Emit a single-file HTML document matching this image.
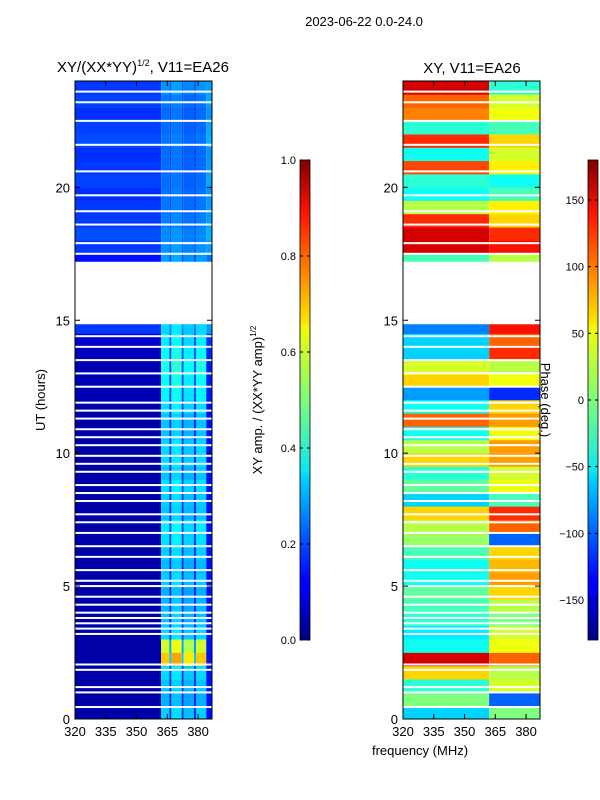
<!DOCTYPE html>
<html><head><meta charset="utf-8">
<style>
body{margin:0;background:#fff;}
svg{display:block;font-family:"Liberation Sans",sans-serif;}
</style></head>
<body>
<svg id="fig" width="600" height="800" viewBox="0 0 600 800">
<text x="364" y="26" font-size="13" text-anchor="middle">2023-06-22 0.0-24.0</text>
<text x="143" y="72" font-size="15" text-anchor="middle">XY/(XX*YY)<tspan font-size="9" dy="-6">1/2</tspan><tspan dy="6">, V11=EA26</tspan></text>
<text x="472" y="73" font-size="15" text-anchor="middle">XY, V11=EA26</text>
<text x="45" y="400" font-size="13" text-anchor="middle" transform="rotate(-90 45 400)">UT (hours)</text>
<text x="420" y="755" font-size="13" text-anchor="middle">frequency (MHz)</text>
<g id="left"></g>
<g id="right"></g>
<g id="axes"></g>
<defs>
<linearGradient id="jet" x1="0" y1="1" x2="0" y2="0">
<stop offset="0" stop-color="#00007f"/><stop offset="0.11" stop-color="#0000ff"/><stop offset="0.125" stop-color="#0000ff"/><stop offset="0.34" stop-color="#00d4ff"/><stop offset="0.35" stop-color="#0de5f0"/><stop offset="0.5" stop-color="#7dff7a"/><stop offset="0.65" stop-color="#f0f90d"/><stop offset="0.66" stop-color="#ffe600"/><stop offset="0.89" stop-color="#ff1300"/><stop offset="1" stop-color="#7f0000"/>
</linearGradient>
</defs>
<rect x="300" y="160" width="10" height="480" fill="url(#jet)" stroke="#000" stroke-width="0.8"/>
<rect x="588" y="160" width="10" height="480" fill="url(#jet)" stroke="#000" stroke-width="0.8"/>
<g id="cbticks"></g>
<text x="262" y="400" font-size="13" text-anchor="middle" transform="rotate(-90 262 400)">XY amp. / (XX*YY amp)<tspan font-size="8" dy="-6">1/2</tspan></text>
<text x="541" y="400" font-size="13" text-anchor="middle" transform="rotate(90 541 400)">Phase (deg.)</text>
</svg>
<script>
// rows are 0.5 h bins from UT 0 to 24
const utStarts = [0,0.5,1,1.5,2,2.5,3,3.5,4,4.5,5,5.5,6,6.5,7,7.5,8,8.5,9,9.5,10,10.5,11,11.5,12,12.5,13,13.5,14,14.5,15,15.5,16,16.5,17,17.5,18,18.5,19,19.5,20,20.5,21,21.5,22,22.5,23,23.5];
// null = flagged (blank)
const ampLow = [0.04,0.04,0.04,0.04,0.04,0.04,0.04,0.04,0.04,0.04,0.04,0.04,0.04,0.04,0.04,0.04,0.04,0.04,0.04,0.04,0.04,0.04,0.04,0.04,0.05,0.05,0.05,0.06,0.08,0.18,null,null,null,null,0.14,0.18,0.2,0.18,0.18,0.17,0.19,0.18,0.17,0.2,0.19,0.17,0.19,0.18];
const ampHigh = [0.33,0.3,0.32,0.34,0.68,0.58,0.34,0.32,0.31,0.3,0.33,0.31,0.33,0.35,0.36,0.32,0.33,0.35,0.32,0.34,0.34,0.32,0.32,0.35,0.37,0.38,0.4,0.38,0.36,0.34,null,null,null,null,0.28,0.27,0.26,0.25,0.24,0.24,0.23,0.23,0.23,0.24,0.23,0.23,0.24,0.27];
const phaseLow = [-60,0,-30,60,150,-40,-50,-30,-20,-10,-40,-40,-20,10,20,60,-60,-10,-30,60,20,-40,100,-40,-80,60,30,-60,-60,-90,null,null,null,null,-20,150,150,120,20,-40,-30,110,-40,120,-30,90,100,150];
const phaseHigh = [0,-100,30,20,100,40,30,0,20,60,80,70,60,-100,100,120,-20,40,30,80,80,40,80,60,-120,40,20,120,100,130,null,null,null,null,20,130,120,60,50,-20,-40,50,30,60,-20,40,30,-30];
// flagged thin lines (UT hours)
const gapUT = [0.45,1.0,1.2,1.85,2.05,3.2,3.4,3.6,3.8,4.0,4.3,4.6,5.0,5.2,5.6,6.1,6.5,7.0,7.4,7.7,8.2,8.5,8.8,9.3,9.6,9.9,10.3,10.6,10.9,11.3,11.6,11.9,12.5,13.0,13.5,14.0,14.4,17.5,17.9,18.6,19.1,19.7,20.6,21.6,22.5,23.2,23.6];
const blankStart = 14.85, blankEnd = 17.2;
// high-band amplitude stripes (MHz edges) and relative gains
const stripeEdges = [362,366,367,372,373,378,379,384];
const stripeGain = [1.0,0.45,1.05,0.45,0.95,0.45,1.0];
const yTicks = [0,5,10,15,20];
const xTicks = [320,335,350,365,380];
const ampTicks = [0.0,0.2,0.4,0.6,0.8,1.0];
const phaseTicks = [-150,-100,-50,0,50,100,150];

const NS='http://www.w3.org/2000/svg';
function jet(v){v=Math.max(0,Math.min(1,v));
 const r=Math.min(4*v-1.5,-4*v+4.5),g=Math.min(4*v-0.5,-4*v+3.5),b=Math.min(4*v+0.5,-4*v+2.5);
 const c=x=>Math.round(255*Math.max(0,Math.min(1,x)));return `rgb(${c(r)},${c(g)},${c(b)})`;}
const y=t=>719-t*(638/24);
const panels=[{x0:75,g:'left'},{x0:403,g:'right'}];
const FMIN=320,FMAX=386.8;
function xf(p,f){return p.x0+(f-FMIN)*(137/(FMAX-FMIN));}
function rect(parent,x,yy,w,h,fill){const r=document.createElementNS(NS,'rect');
 r.setAttribute('x',x);r.setAttribute('y',yy);r.setAttribute('width',w);r.setAttribute('height',h);r.setAttribute('fill',fill);
 parent.appendChild(r);return r;}
// amplitude
{const p=panels[0],g=document.getElementById('left');
 utStarts.forEach((t,i)=>{if(ampLow[i]===null)return;
  const y1=y(Math.min(t+0.5,24)),h=y(t)-y1;
  const c=rect(g,xf(p,FMIN),y1,xf(p,362)-xf(p,FMIN),h+0.3,jet(ampLow[i]));
  
  
  for(let k=0;k<stripeGain.length;k++){const f0=stripeEdges[k],f1=Math.min(stripeEdges[k+1]||FMAX,FMAX);
   const v=stripeGain[k]<0.6?ampLow[i]+ (ampHigh[i]-ampLow[i])*stripeGain[k]:ampHigh[i]*stripeGain[k];
   const s=rect(g,xf(p,f0),y1,xf(p,f1)-xf(p,f0),h+0.3,jet(v));
   
   }
  const e=rect(g,xf(p,384),y1,xf(p,FMAX)-xf(p,384),h+0.3,jet(ampLow[i]+0.1));
  
  
 });}
// phase
{const p=panels[1],g=document.getElementById('right');
 utStarts.forEach((t,i)=>{if(phaseLow[i]===null)return;
  const y1=y(Math.min(t+0.5,24)),h=y(t)-y1;
  const a=rect(g,xf(p,FMIN),y1,xf(p,362)-xf(p,FMIN),h+0.3,jet((phaseLow[i]+180)/360));
  
  
  const b=rect(g,xf(p,362),y1,xf(p,FMAX)-xf(p,362),h+0.3,jet((phaseHigh[i]+180)/360));
  
  
 });}
// flagged gaps
panels.forEach(p=>{const g=document.getElementById(p.g);
 gapUT.forEach(t=>{const r=rect(g,p.x0,y(t)-1,137,2,'#fff');
  
  });
 const r=rect(g,p.x0,y(blankEnd),137,y(blankStart)-y(blankEnd),'#fff');
 
 
});
// axes
const ax=document.getElementById('axes');
panels.forEach((p,pi)=>{
 const fr=rect(ax,p.x0,81,137,638,'none');fr.setAttribute('stroke','#000');fr.setAttribute('stroke-width','1');
 
 
 yTicks.forEach(t=>{const yy=y(t);
  [[p.x0,p.x0+5],[p.x0+137,p.x0+132]].forEach(([a,b])=>{const l=document.createElementNS(NS,'line');
   l.setAttribute('x1',a);l.setAttribute('x2',b);l.setAttribute('y1',yy);l.setAttribute('y2',yy);l.setAttribute('stroke','#000');ax.appendChild(l);});
  const tx=document.createElementNS(NS,'text');tx.setAttribute('x',p.x0-5);tx.setAttribute('y',yy+5);tx.setAttribute('font-size','13');tx.setAttribute('text-anchor','end');tx.textContent=t;
  
  
  ax.appendChild(tx);});
 xTicks.forEach(f=>{const xx=xf(p,f);
  [[719,714],[81,86]].forEach(([a,b])=>{const l=document.createElementNS(NS,'line');
   l.setAttribute('x1',xx);l.setAttribute('x2',xx);l.setAttribute('y1',a);l.setAttribute('y2',b);l.setAttribute('stroke','#000');ax.appendChild(l);});
  const tx=document.createElementNS(NS,'text');tx.setAttribute('x',xx);tx.setAttribute('y',736);tx.setAttribute('font-size','13');tx.setAttribute('text-anchor','middle');tx.textContent=f;
  
  
  ax.appendChild(tx);});
});
// colorbar ticks
const cb=document.getElementById('cbticks');
function cbTick(x,yy,label,name){
 [[x,x+3],[x+10,x+7]].forEach(([a,b])=>{const l=document.createElementNS(NS,'line');
  l.setAttribute('x1',a);l.setAttribute('x2',b);l.setAttribute('y1',yy);l.setAttribute('y2',yy);l.setAttribute('stroke','#000');cb.appendChild(l);});
 const tx=document.createElementNS(NS,'text');tx.setAttribute('x',x-4);tx.setAttribute('y',yy+4);tx.setAttribute('font-size','11');tx.setAttribute('text-anchor','end');tx.textContent=label;
 
 
 cb.appendChild(tx);}
ampTicks.forEach(v=>cbTick(300,640-v*480,v.toFixed(1),'amp-colorbar-tick'));
phaseTicks.forEach(v=>cbTick(588,640-(v+180)*480/360,v<0?'\u2212'+(-v):String(v),'phase-colorbar-tick'));
</script>
</body></html>
